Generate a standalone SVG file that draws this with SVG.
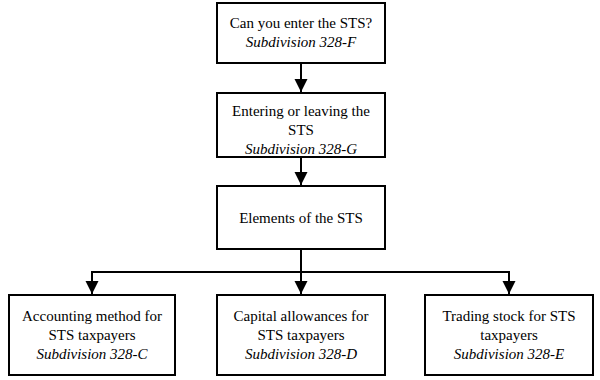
<svg xmlns="http://www.w3.org/2000/svg" width="600" height="380" viewBox="0 0 600 380">
<defs>
<marker id="ah" markerWidth="14" markerHeight="14" refX="13" refY="6.5" orient="auto" markerUnits="userSpaceOnUse">
<path d="M0,0 L13,6.5 L0,13 z" fill="#000"/>
</marker>
<style>
.box{fill:#fff;stroke:#000;stroke-width:2}
.t{font-size:15px;fill:#000;text-anchor:middle}
.i{font-style:italic}
.c{stroke:#000;stroke-width:2;fill:none}
</style>
</defs>
<rect width="600" height="380" fill="#fff"/>
<g id="connectors">
<line class="c" x1="301" y1="63" x2="301" y2="92" marker-end="url(#ah)"/>
<line class="c" x1="301" y1="157" x2="301" y2="185" marker-end="url(#ah)"/>
<line class="c" x1="301" y1="249" x2="301" y2="294" marker-end="url(#ah)"/>
<polyline class="c" points="92,294 92,272 509,272 509,294"/>
<line class="c" x1="92" y1="280" x2="92" y2="294" marker-end="url(#ah)"/>
<line class="c" x1="509" y1="280" x2="509" y2="294" marker-end="url(#ah)"/>
</g>
<g font-family="'Liberation Serif', 'Times New Roman', serif">
<g id="n1">
<rect class="box" x="217" y="3" width="168" height="60"/>
<text class="t" x="301" y="28">Can you enter the STS?</text>
<text class="t i" x="301" y="47">Subdivision 328-F</text>
</g>
<g id="n2">
<rect class="box" x="217" y="93" width="168" height="64"/>
<text class="t" x="301" y="116">Entering or leaving the</text>
<text class="t" x="301" y="135">STS</text>
<text class="t i" x="301" y="154">Subdivision 328-G</text>
</g>
<g id="n3">
<rect class="box" x="217" y="186" width="168" height="63"/>
<text class="t" x="301" y="223">Elements of the STS</text>
</g>
<g id="n4">
<rect class="box" x="9" y="295" width="166" height="80"/>
<text class="t" x="92" y="321">Accounting method for</text>
<text class="t" x="92" y="340">STS taxpayers</text>
<text class="t i" x="92" y="359">Subdivision 328-C</text>
</g>
<g id="n5">
<rect class="box" x="217" y="295" width="168" height="80"/>
<text class="t" x="301" y="321">Capital allowances for</text>
<text class="t" x="301" y="340">STS taxpayers</text>
<text class="t i" x="301" y="359">Subdivision 328-D</text>
</g>
<g id="n6">
<rect class="box" x="425" y="295" width="168" height="80"/>
<text class="t" x="509" y="321">Trading stock for STS</text>
<text class="t" x="509" y="340">taxpayers</text>
<text class="t i" x="509" y="359">Subdivision 328-E</text>
</g>
</g>
</svg>
